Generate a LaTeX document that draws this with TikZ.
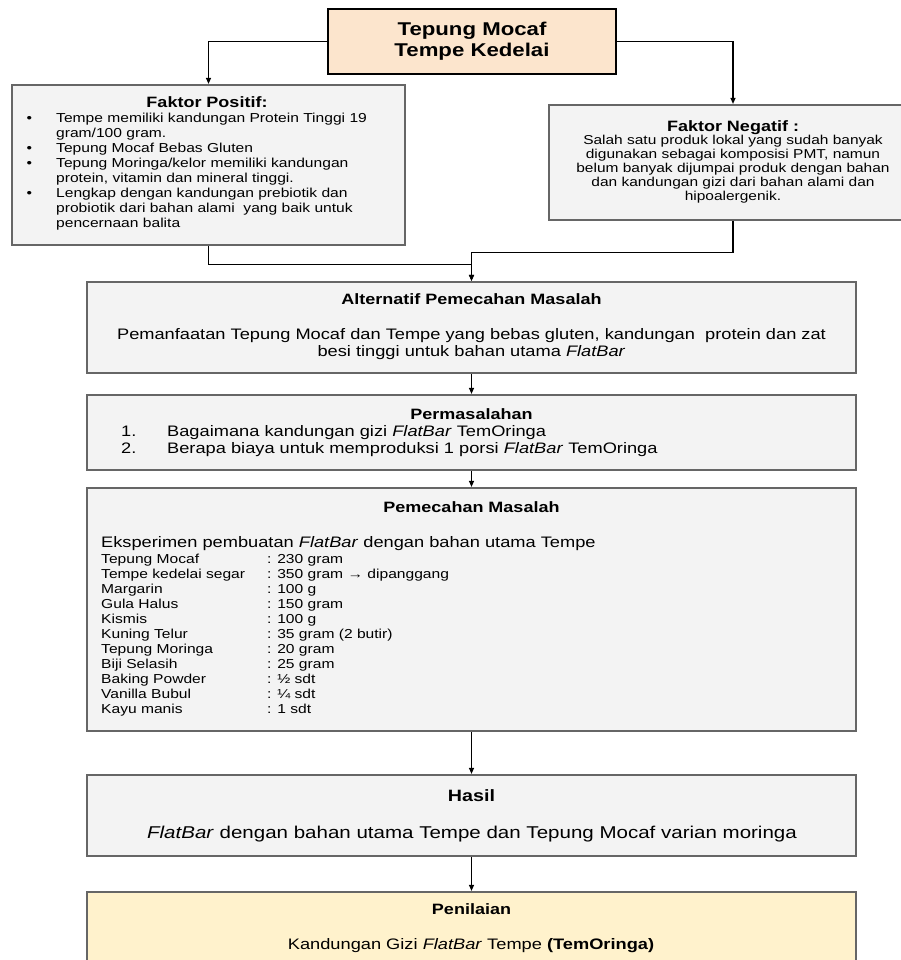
\documentclass[tikz,border=0pt]{standalone}
\usepackage{fontspec}
\setmainfont{Liberation Sans}[FakeStretch=1.2]
\usepackage{xcolor}
\usetikzlibrary{arrows.meta,positioning,calc}
\definecolor{peach}{HTML}{FCE5CD}
\definecolor{boxgray}{HTML}{F3F3F3}
\definecolor{edgegray}{HTML}{666666}
\definecolor{cream}{HTML}{FFF2CC}
\newcommand{\fsz}[2]{\fontsize{#1}{#2}\selectfont}

\begin{document}
\begin{tikzpicture}[
  x=1pt, y=-1pt,
  box/.style={draw=edgegray, line width=2.2pt, fill=boxgray, inner sep=0pt},
  topbox/.style={draw=black, line width=2.4pt, fill=peach, align=center, inner sep=0pt, font=\fsz{18.5}{21}\bfseries},
  flow/.style={-{Triangle[length=6pt,width=5pt]}, line width=1.2pt},
  txt/.style={inner sep=0pt, anchor=base},
  ttl/.style={txt, font=\fsz{15}{17}\bfseries},
  small/.style={txt, font=\fsz{13}{15}},
  body/.style={txt, font=\fsz{15.2}{17}},
]
\useasboundingbox (0,0) rectangle (901,960);
\clip (0,0) rectangle (901,960);

\node[topbox, minimum width=288pt, minimum height=65pt] (top) at (472,41.5) {Tepung Mocaf\\Tempe Kedelai};
\node[box, minimum width=393pt, minimum height=160pt] (pos) at (208.5,165) {};
\node[box, minimum width=368pt, minimum height=115pt] (neg) at (733,162.5) {};
\node[box, minimum width=769pt, minimum height=91pt] (alt) at (471.5,327.5) {};
\node[box, minimum width=769pt, minimum height=75pt] (perm) at (471.5,432.5) {};
\node[box, minimum width=769pt, minimum height=243pt] (pem) at (471.5,609.5) {};
\node[box, minimum width=769pt, minimum height=81pt] (hasil) at (471.5,815.5) {};
\node[box, fill=cream, minimum width=769pt, minimum height=90pt] (pen) at (471.5,937) {};

% faktor positif / negatif
\node[ttl] (posT) at (207,108) {Faktor Positif:};
\node[small, anchor=base west] (posL) at (26.3,123) {\begin{tabular}[t]{@{}p{29.7pt}@{}l@{}}
\textbullet & Tempe memiliki kandungan Protein Tinggi 19\\
 & gram/100 gram.\\
\textbullet & Tepung Mocaf Bebas Gluten\\
\textbullet & Tepung Moringa/kelor memiliki kandungan\\
 & protein, vitamin dan mineral tinggi.\\
\textbullet & Lengkap dengan kandungan prebiotik dan\\
 & probiotik dari bahan alami\ \ yang baik untuk\\
 & pencernaan balita
\end{tabular}};
\node[ttl] (negT) at (733,131.5) {Faktor Negatif :};
\node[txt, font=\fsz{12.9}{13.8}] (negB) at (733,145) {\begin{tabular}[t]{@{}c@{}}
Salah satu produk lokal yang sudah banyak\\
digunakan sebagai komposisi PMT, namun\\
belum banyak dijumpai produk dengan bahan\\
dan kandungan gizi dari bahan alami dan\\
hipoalergenik.
\end{tabular}};

\node[ttl] (altT) at (471.5,304.5) {Alternatif Pemecahan Masalah};
\node[body] (altB) at (471.5,339.5) {\begin{tabular}[t]{@{}c@{}}
Pemanfaatan Tepung Mocaf dan Tempe yang bebas gluten, kandungan\ \ protein dan zat\\
besi tinggi untuk bahan utama \textit{FlatBar}
\end{tabular}};

\node[ttl] (permT) at (471.5,419.5) {Permasalahan};
\node[body, anchor=base west] (permL) at (121,436.5) {\begin{tabular}[t]{@{}p{46pt}@{}l@{}}
1. & Bagaimana kandungan gizi \textit{FlatBar} TemOringa\\
2. & Berapa biaya untuk memproduksi 1 porsi \textit{FlatBar} TemOringa
\end{tabular}};

\node[ttl] (pemT) at (471.5,512.5) {Pemecahan Masalah};
\node[body, anchor=base west] (pemE) at (101,547.5) {Eksperimen pembuatan \textit{FlatBar} dengan bahan utama Tempe};
\node[small, anchor=base west] (pemL) at (101,563) {\begin{tabular}[t]{@{}p{166pt}@{}l@{}}
Tepung Mocaf & : 230 gram\\
Tempe kedelai segar & : 350 gram → dipanggang\\
Margarin & : 100 g\\
Gula Halus & : 150 gram\\
Kismis & : 100 g\\
Kuning Telur & : 35 gram (2 butir)\\
Tepung Moringa & : 20 gram\\
Biji Selasih & : 25 gram\\
Baking Powder & : ½ sdt\\
Vanilla Bubul & : ¼ sdt\\
Kayu manis & : 1 sdt
\end{tabular}};

\node[txt, font=\fsz{16.4}{19}\bfseries] (hasilT) at (471.5,801) {Hasil};
\node[txt, font=\fsz{17.1}{20}] (hasilB) at (472,838.5) {\textit{FlatBar} dengan bahan utama Tempe dan Tepung Mocaf varian moringa};

\node[ttl] (penT) at (471.5,914.5) {Penilaian};
\node[body] (penB) at (471,949.5) {Kandungan Gizi \textit{FlatBar} Tempe \textbf{(TemOringa)}};

\draw[flow] (top.west) -| (pos.north);
\draw[flow] (top.east) -| (neg.north);
\draw[flow] (pos.south) -- ++(0,18) -| (alt.north);
\draw[flow] (neg.south) -- ++(0,31) -| (alt.north);
\foreach \a/\b in {alt/perm,perm/pem,pem/hasil,hasil/pen}
  \draw[flow] (\a) -- (\b);
\end{tikzpicture}
\end{document}
